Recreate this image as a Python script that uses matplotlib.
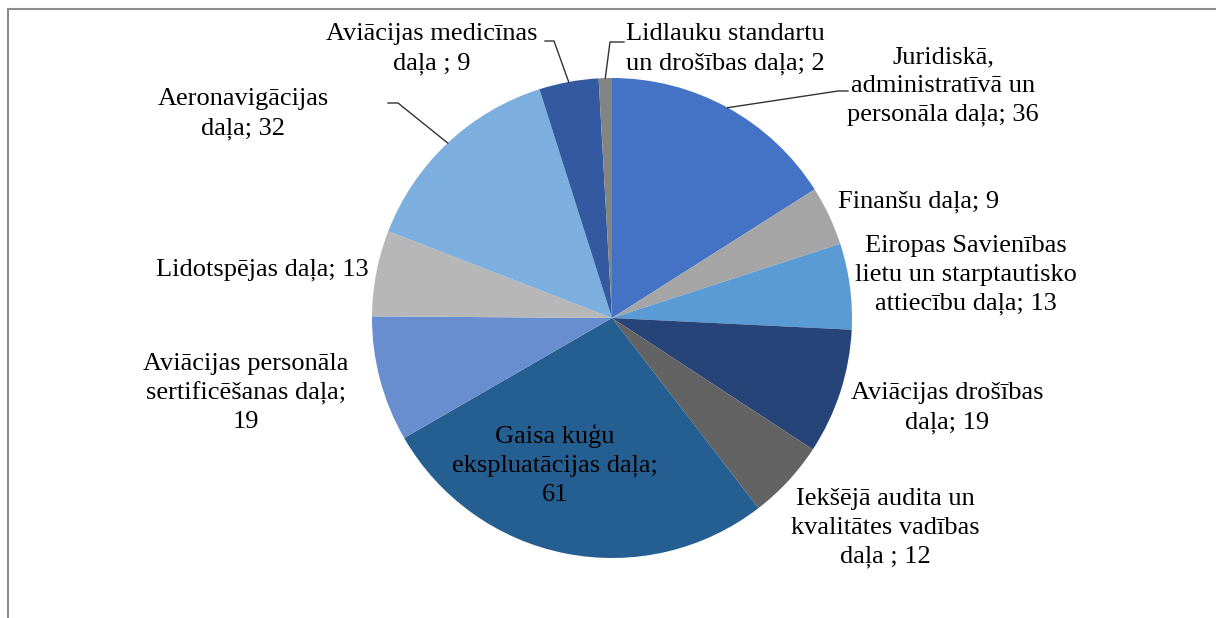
import numpy as np
import matplotlib.pyplot as plt
from matplotlib.lines import Line2D

# data
labels = ["Juridiskā,\nadministratīvā un\npersonāla daļa; 36",
          "Finanšu daļa; 9",
          "Eiropas Savienības\nlietu un starptautisko\nattiecību daļa; 13",
          "Aviācijas drošības\ndaļa; 19",
          "Iekšējā audita un\nkvalitātes vadības\ndaļa ; 12",
          "Gaisa kuģu\nekspluatācijas daļa;\n61",
          "Aviācijas personāla\nsertificēšanas daļa;\n19",
          "Lidotspējas daļa; 13",
          "Aeronavigācijas\ndaļa; 32",
          "Aviācijas medicīnas\ndaļa ; 9",
          "Lidlauku standartu\nun drošības daļa; 2"]
values = [36, 9, 13, 19, 12, 61, 19, 13, 32, 9, 2]
colors = ['#4472C4', '#A5A5A5', '#5B9BD5', '#264478', '#636363', '#255E91',
          '#698ED0', '#B7B7B7', '#7CAFDD', '#335AA1', '#848484']

W, H = 1216, 618
fig = plt.figure(figsize=(W / 100, H / 100), dpi=100)
ax = fig.add_axes([0, 0, 1, 1])

cx, cy, r = 612, H - 318, 240
wedges, _ = ax.pie(values, colors=colors, startangle=90, counterclock=False,
                   center=(cx, cy), radius=r, frame=True,
                   wedgeprops={'linewidth': 0})
ax.set_xlim(0, W)
ax.set_ylim(0, H)
ax.set_aspect('equal')
ax.axis('off')

# label positions (image pixels, text block centre)
label_pos = [(943, 86), (919, 202), (966, 275), (947, 408), (885, 528),
             (555, 465), (246, 393), (262, 270), (243, 114), (432, 49),
             (725, 49)]
for lab, (x, y) in zip(labels, label_pos):
    ax.text(x, H - y, lab, ha='center', va='center', fontsize=19,
            family='Liberation Serif', color='black', linespacing=1.38)

# leader lines: wedge index -> (elbow, end) in image pixels
leaders = {0: [(838, 91), (848, 91)],
           8: [(398, 103), (388, 103)],
           9: [(554, 41), (545, 41)],
           10: [(610, 42), (624, 42)]}
cum = np.cumsum([0] + values)
total = cum[-1]
for i, pts in leaders.items():
    mid = (cum[i] + cum[i + 1]) / 2
    ang = np.deg2rad(90 - mid / total * 360)
    xs = [cx + r * np.cos(ang)] + [p[0] for p in pts]
    ys = [cy + r * np.sin(ang)] + [H - p[1] for p in pts]
    ax.plot(xs, ys, color='#333333', lw=1.0)

# chart frame (only top and left edges visible)
fig.add_artist(Line2D([8 / W, 8 / W], [0, 1 - 9 / H], color='#8c8c8c', lw=1.5))
fig.add_artist(Line2D([8 / W, 1], [1 - 9 / H, 1 - 9 / H], color='#8c8c8c', lw=1.5))

fig.savefig('out.png', dpi=100, facecolor='white')
